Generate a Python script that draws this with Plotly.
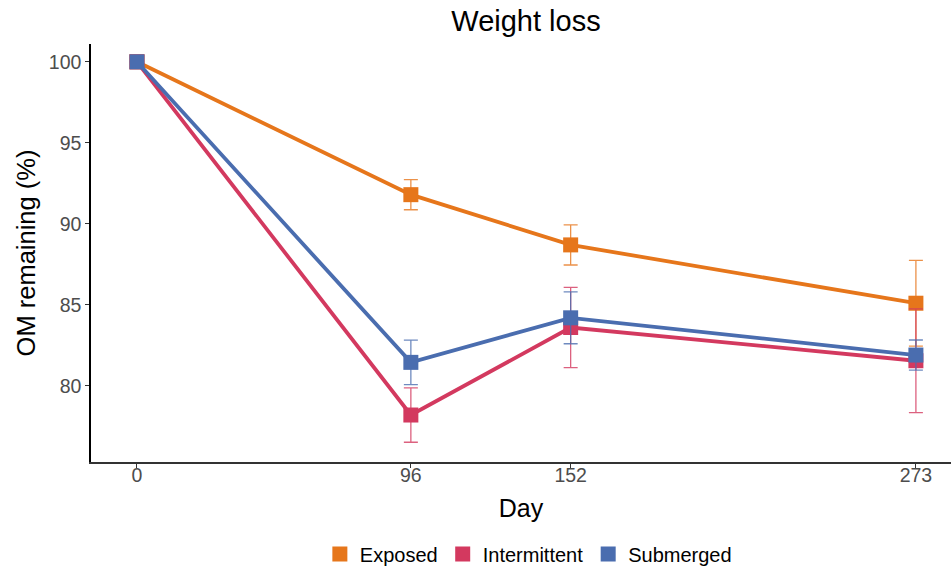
import plotly.graph_objects as go

days = [0, 96, 152, 273]
series_names = ["Exposed", "Intermittent", "Submerged"]
exposed_mean = [100.0, 91.8, 88.7, 85.1]
exposed_err = [0.0, 0.93, 1.24, 2.65]
intermittent_mean = [100.0, 78.2, 83.6, 81.55]
intermittent_err = [0.0, 1.68, 2.48, 3.2]
submerged_mean = [100.0, 81.45, 84.2, 81.9]
submerged_err = [0.0, 1.37, 1.6, 0.93]
colors = ["#E6761B", "#D3395F", "#4A6DAF"]
err_colors = ["rgba(230,118,27,0.8)", "rgba(211,57,95,0.8)", "rgba(74,109,175,0.8)"]
y_ticks = [80, 85, 90, 95, 100]

means = [exposed_mean, intermittent_mean, submerged_mean]
errs = [exposed_err, intermittent_err, submerged_err]

fig = go.Figure()
for name, m, e, c, ec in zip(series_names, means, errs, colors, err_colors):
    fig.add_trace(go.Scatter(
        x=days, y=m, name=name, mode="lines+markers", showlegend=False,
        line=dict(color=c, width=3.8),
        marker=dict(symbol="square", size=15, color=c),
        error_y=dict(type="data", array=e, visible=True, color=ec, thickness=1.3, width=7),
    ))
# legend entries
for name, c in zip(series_names, colors):
    fig.add_trace(go.Scatter(
        x=[None], y=[None], name=name, mode="markers",
        marker=dict(symbol="square", size=15, color=c),
    ))

font_family = "Liberation Sans, Arial, sans-serif"
fig.update_layout(
    width=952, height=566,
    margin=dict(l=91, r=1, t=44, b=104),
    plot_bgcolor="white", paper_bgcolor="white",
    font=dict(family=font_family, color="black"),
    title=dict(text="Weight loss", x=0.5525, xanchor="center", y=1 - 21 / 566, yanchor="middle",
               font=dict(size=29, color="black")),
    xaxis=dict(
        range=[-16.1, 285.3], tickvals=days, ticktext=[str(d) for d in days],
        showgrid=False, zeroline=False, showline=True, linecolor="#333333", linewidth=1.5,
        ticks="outside", ticklen=4, tickcolor="#333333", tickwidth=1,
        tickfont=dict(size=19.5, color="#4D4D4D"), automargin=False,
        ticklabelstandoff=-9,
        title=dict(text="Day", font=dict(size=25, color="black"), standoff=14),
    ),
    yaxis=dict(
        range=[75.3, 101.1], tickvals=y_ticks,
        showgrid=False, zeroline=False, showline=True, linecolor="#000000", linewidth=1.5,
        ticks="outside", ticklen=4, tickcolor="#333333", tickwidth=1,
        tickfont=dict(size=19.5, color="#4D4D4D"), automargin=False,
        title=dict(text="OM remaining (%)", font=dict(size=25.5, color="black"), standoff=6),
    ),
    legend=dict(orientation="h", x=0.555, xanchor="center", xref="container",
                y=1 - 554 / 566, yanchor="middle", yref="container",
                font=dict(size=20, color="black")),
    showlegend=True,
)

fig.write_html("out.html", config={"displayModeBar": False},
               post_script="document.body.style.margin='0';document.body.style.padding='0';")
